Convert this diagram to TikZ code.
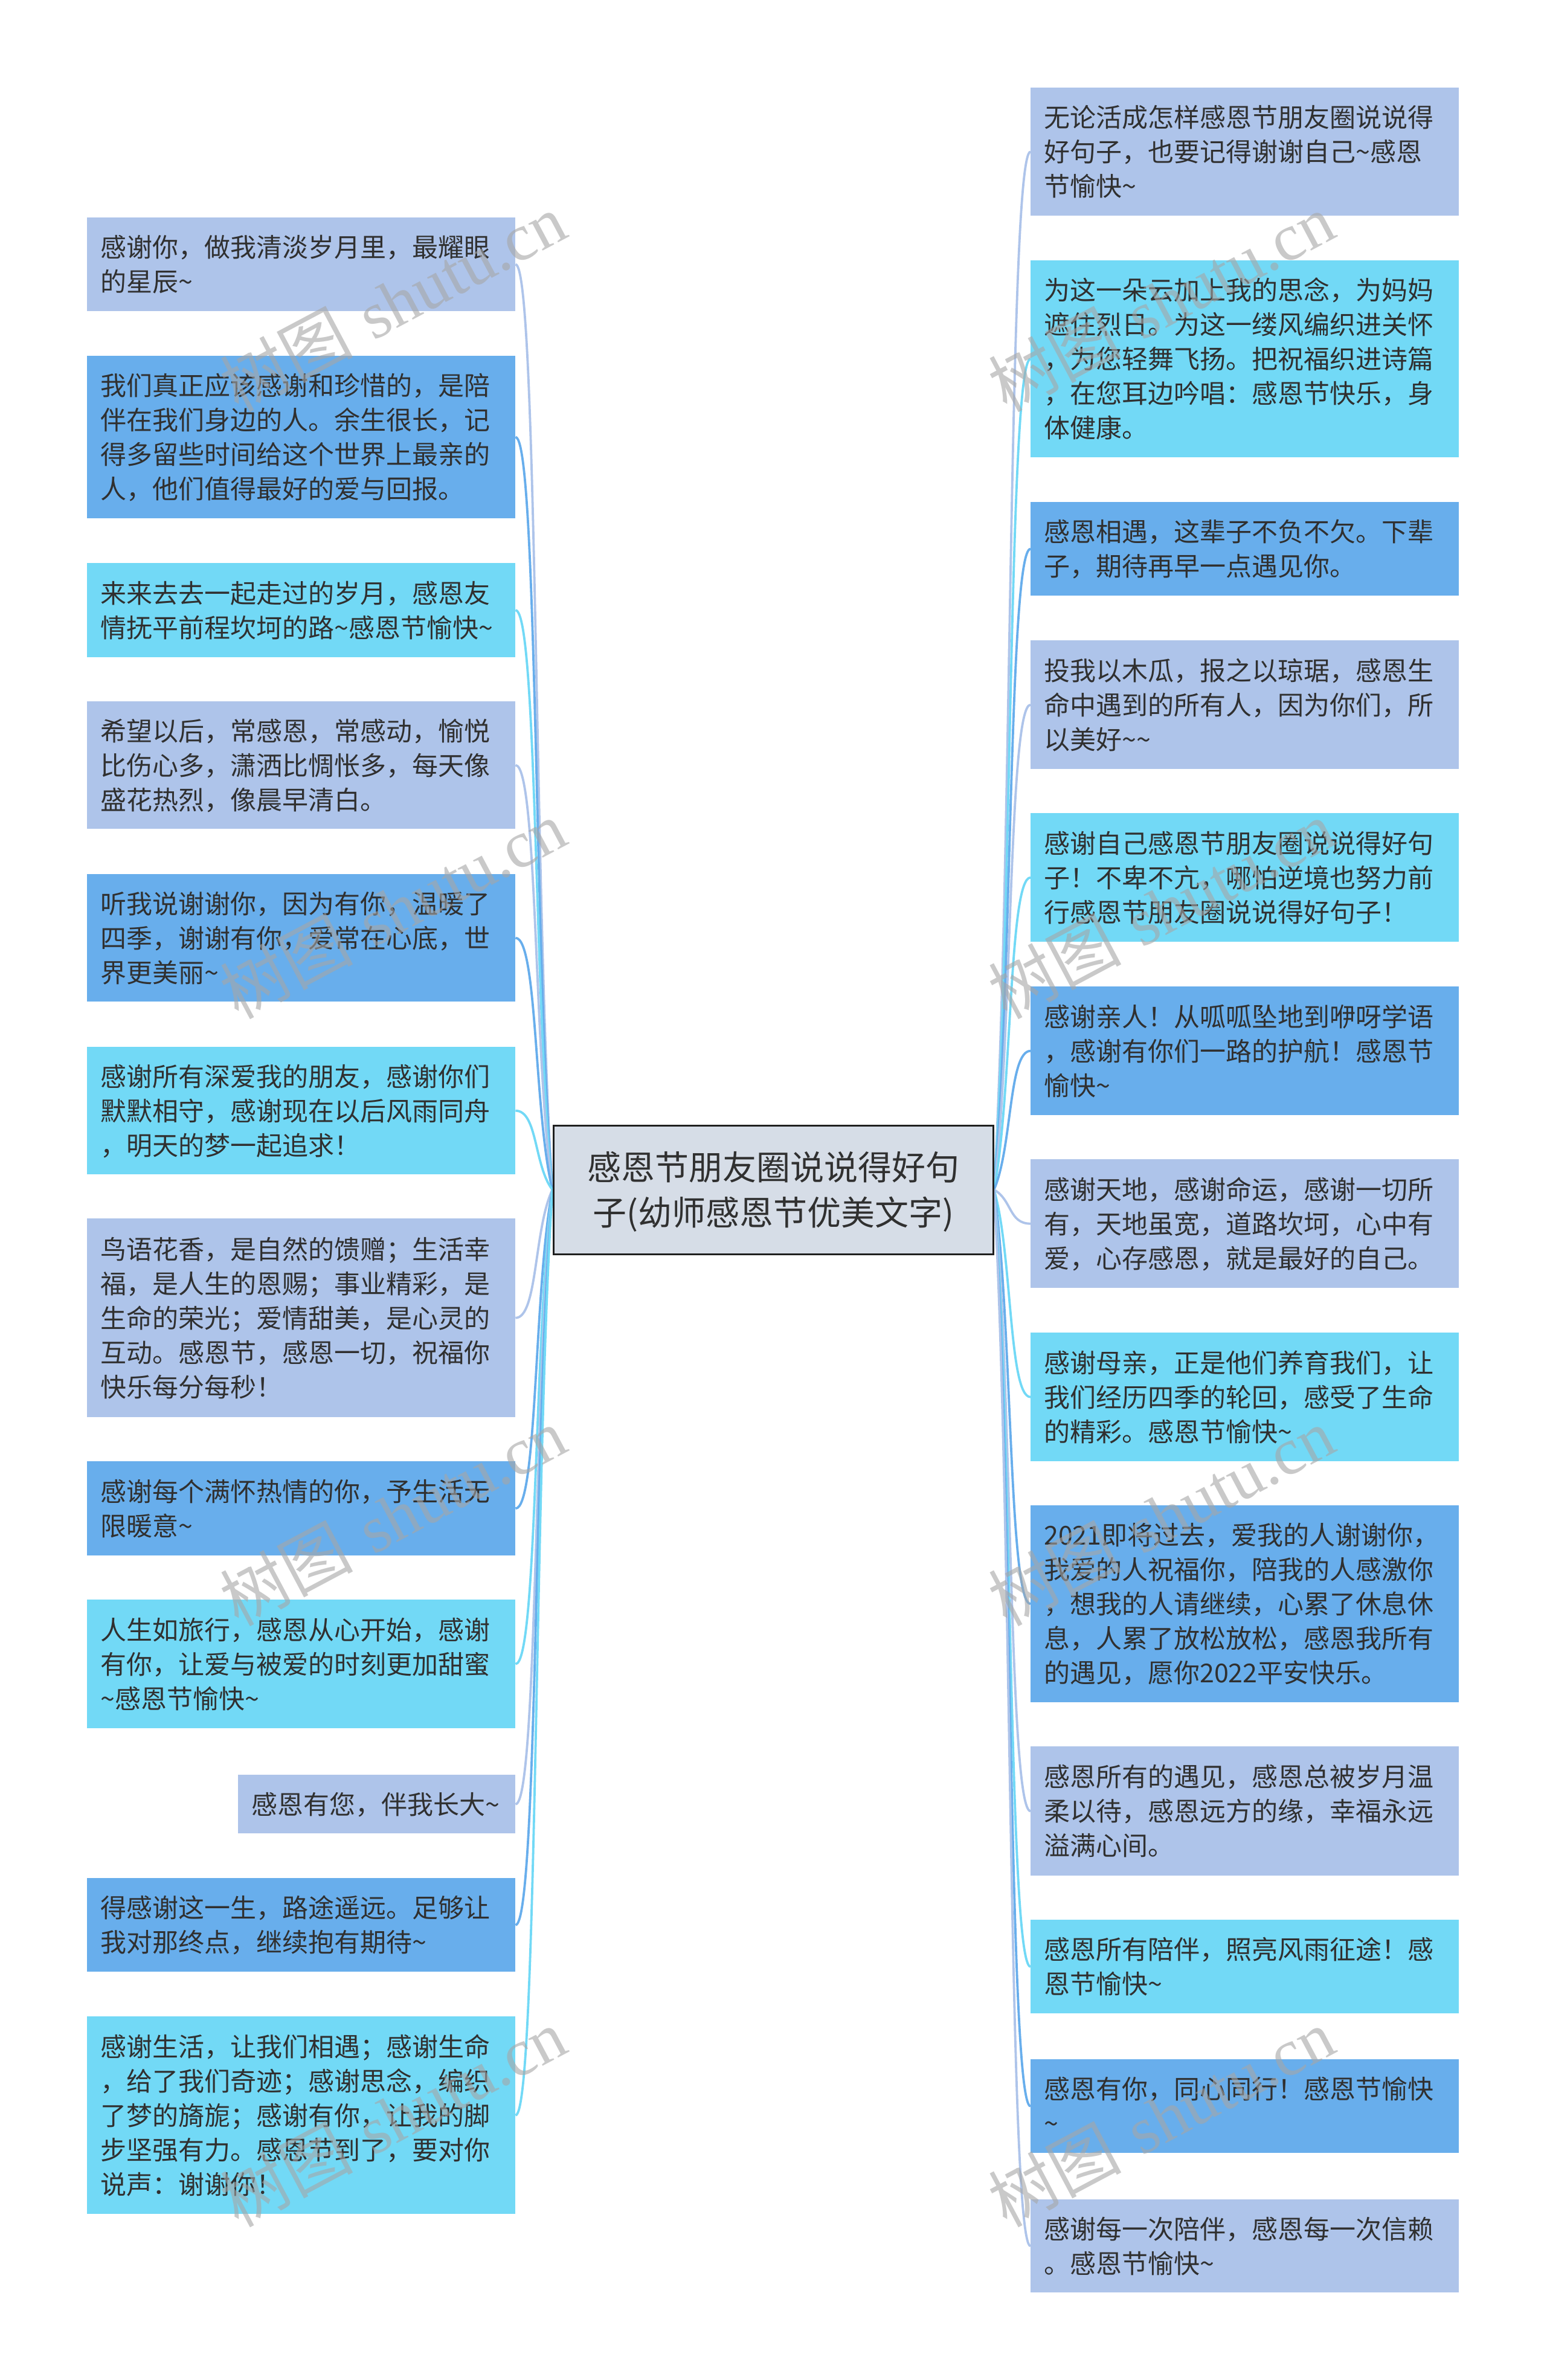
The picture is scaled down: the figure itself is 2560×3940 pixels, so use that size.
\documentclass[tikz,border=0pt]{standalone}
\usepackage{fontspec}
\newfontfamily\cjk{Noto Sans CJK SC}
\newfontfamily\wmlat{Liberation Serif}
\usetikzlibrary{calc}
\pgfdeclarelayer{bg}
\pgfsetlayers{bg,main}
\definecolor{cP}{HTML}{AEC4EA}
\definecolor{cB}{HTML}{68AEEC}
\definecolor{cC}{HTML}{72D9F6}
\definecolor{cCtr}{HTML}{D6DDE7}
\definecolor{txt}{HTML}{303030}
\newcommand\Ls{\rule[-12pt]{0pt}{57pt}}
\newcommand\Lc{\rule[-16pt]{0pt}{75pt}}
\newcommand\Tld{\textasciitilde}
\begin{document}
\begin{tikzpicture}[x=1pt,y=-1pt,
  leaf/.style={anchor=north west, text width=665pt, inner xsep=22pt, inner ysep=0pt,
    align=left, font=\cjk\fontsize{43pt}{57pt}\selectfont, text=txt},
  ctr/.style={minimum width=728pt, minimum height=213pt, inner sep=0pt, align=center,
    fill=cCtr, draw=black!88, line width=3pt, text=txt,
    font=\cjk\fontsize{56pt}{75pt}\selectfont},
  link/.style={line width=3.8pt},
  curve/.style={to path={let \p1=(\tikztostart), \p2=(\tikztotarget) in
    .. controls ({\x1+0.5*(\x2-\x1)},{\y1+0.3*(\y2-\y1)}) and ({\x1+0.4*(\x2-\x1)},\y2) .. (\tikztotarget)}},
  wm/.style={rotate=28, text=black!35, text opacity=0.6, inner sep=0pt,
    font=\fontsize{110pt}{110pt}\selectfont}
]
\useasboundingbox (0,0) rectangle (2560,3940);
\begin{pgfonlayer}{bg}
\fill[white] (0,0) rectangle (2560,3940);
\end{pgfonlayer}

% center
\node[ctr] (C) at (1280,1969.5) {\Lc 感恩节朋友圈说说得好句\\子(幼师感恩节优美文字)\Lc};

% left column
\node[leaf, fill=cP, minimum height=155pt] (L1) at (144,360) {\Ls 感谢你，做我清淡岁月里，最耀眼\\的星辰\Tld\Ls};
\node[leaf, fill=cB, minimum height=269pt] (L2) at (144,589) {\Ls 我们真正应该感谢和珍惜的，是陪\\伴在我们身边的人。余生很长，记\\得多留些时间给这个世界上最亲的\\人，他们值得最好的爱与回报。\Ls};
\node[leaf, fill=cC, minimum height=156pt] (L3) at (144,932) {\Ls 来来去去一起走过的岁月，感恩友\\情抚平前程坎坷的路\Tld 感恩节愉快\Tld\Ls};
\node[leaf, fill=cP, minimum height=211pt] (L4) at (144,1161) {\Ls 希望以后，常感恩，常感动，愉悦\\比伤心多，潇洒比惆怅多，每天像\\盛花热烈，像晨早清白。\Ls};
\node[leaf, fill=cB, minimum height=211pt] (L5) at (144,1447) {\Ls 听我说谢谢你，因为有你，温暖了\\四季，谢谢有你，爱常在心底，世\\界更美丽\Tld\Ls};
\node[leaf, fill=cC, minimum height=211pt] (L6) at (144,1733) {\Ls 感谢所有深爱我的朋友，感谢你们\\默默相守，感谢现在以后风雨同舟\\，明天的梦一起追求！\Ls};
\node[leaf, fill=cP, minimum height=329pt] (L7) at (144,2017) {\Ls 鸟语花香，是自然的馈赠；生活幸\\福，是人生的恩赐；事业精彩，是\\生命的荣光；爱情甜美，是心灵的\\互动。感恩节，感恩一切，祝福你\\快乐每分每秒！\Ls};
\node[leaf, fill=cB, minimum height=156pt] (L8) at (144,2419) {\Ls 感谢每个满怀热情的你，予生活无\\限暖意\Tld\Ls};
\node[leaf, fill=cC, minimum height=213pt] (L9) at (144,2648) {\Ls 人生如旅行，感恩从心开始，感谢\\有你，让爱与被爱的时刻更加甜蜜\\\Tld 感恩节愉快\Tld\Ls};
\node[leaf, fill=cP, minimum height=97pt, text width=415pt] (L10) at (394,2938) {\Ls 感恩有您，伴我长大\Tld\Ls};
\node[leaf, fill=cB, minimum height=155pt] (L11) at (144,3109) {\Ls 得感谢这一生，路途遥远。足够让\\我对那终点，继续抱有期待\Tld\Ls};
\node[leaf, fill=cC, minimum height=327pt] (L12) at (144,3338) {\Ls 感谢生活，让我们相遇；感谢生命\\，给了我们奇迹；感谢思念，编织\\了梦的旖旎；感谢有你，让我的脚\\步坚强有力。感恩节到了，要对你\\说声：谢谢你！\Ls};

% right column
\node[leaf, fill=cP, minimum height=212pt] (R1) at (1706,145) {\Ls 无论活成怎样感恩节朋友圈说说得\\好句子，也要记得谢谢自己\Tld 感恩\\节愉快\Tld\Ls};
\node[leaf, fill=cC, minimum height=326pt] (R2) at (1706,431) {\Ls 为这一朵云加上我的思念，为妈妈\\遮住烈日。为这一缕风编织进关怀\\，为您轻舞飞扬。把祝福织进诗篇\\，在您耳边吟唱：感恩节快乐，身\\体健康。\Ls};
\node[leaf, fill=cB, minimum height=155pt] (R3) at (1706,831) {\Ls 感恩相遇，这辈子不负不欠。下辈\\子，期待再早一点遇见你。\Ls};
\node[leaf, fill=cP, minimum height=213pt] (R4) at (1706,1060) {\Ls 投我以木瓜，报之以琼琚，感恩生\\命中遇到的所有人，因为你们，所\\以美好\Tld\Tld\Ls};
\node[leaf, fill=cC, minimum height=213pt] (R5) at (1706,1346) {\Ls 感谢自己感恩节朋友圈说说得好句\\子！不卑不亢，哪怕逆境也努力前\\行感恩节朋友圈说说得好句子！\Ls};
\node[leaf, fill=cB, minimum height=213pt] (R6) at (1706,1633) {\Ls 感谢亲人！从呱呱坠地到咿呀学语\\，感谢有你们一路的护航！感恩节\\愉快\Tld\Ls};
\node[leaf, fill=cP, minimum height=213pt] (R7) at (1706,1919) {\Ls 感谢天地，感谢命运，感谢一切所\\有，天地虽宽，道路坎坷，心中有\\爱，心存感恩，就是最好的自己。\Ls};
\node[leaf, fill=cC, minimum height=213pt] (R8) at (1706,2206) {\Ls 感谢母亲，正是他们养育我们，让\\我们经历四季的轮回，感受了生命\\的精彩。感恩节愉快\Tld\Ls};
\node[leaf, fill=cB, minimum height=326pt] (R9) at (1706,2492) {\Ls 2021即将过去，爱我的人谢谢你，\\我爱的人祝福你，陪我的人感激你\\，想我的人请继续，心累了休息休\\息，人累了放松放松，感恩我所有\\的遇见，愿你2022平安快乐。\Ls};
\node[leaf, fill=cP, minimum height=214pt] (R10) at (1706,2891) {\Ls 感恩所有的遇见，感恩总被岁月温\\柔以待，感恩远方的缘，幸福永远\\溢满心间。\Ls};
\node[leaf, fill=cC, minimum height=155pt] (R11) at (1706,3178) {\Ls 感恩所有陪伴，照亮风雨征途！感\\恩节愉快\Tld\Ls};
\node[leaf, fill=cB, minimum height=155pt] (R12) at (1706,3409) {\Ls 感恩有你，同心同行！感恩节愉快\\\Tld\Ls};
\node[leaf, fill=cP, minimum height=154pt] (R13) at (1706,3641) {\Ls 感谢每一次陪伴，感恩每一次信赖\\。感恩节愉快\Tld\Ls};

% connectors
\begin{pgfonlayer}{bg}
\foreach \nd/\cl in {L1/cP,L2/cB,L3/cC,L4/cP,L5/cB,L6/cC,L7/cP,L8/cB,L9/cC,L10/cP,L11/cB,L12/cC}
  \draw[link,draw=\cl] (C.west) to[curve] (\nd.east);
\foreach \nd/\cl in {R1/cP,R2/cC,R3/cB,R4/cP,R5/cC,R6/cB,R7/cP,R8/cC,R9/cB,R10/cP,R11/cC,R12/cB,R13/cP}
  \draw[link,draw=\cl] (C.east) to[curve] (\nd.west);
\end{pgfonlayer}

% watermarks
\foreach \i/\yy in {1/500,2/1505,3/2510,4/3505}{
  \node[wm] (wmL\i) at (650,\yy) {{\cjk 树图} {\wmlat shutu.cn}};
  \node[wm] (wmR\i) at (1922,\yy) {{\cjk 树图} {\wmlat shutu.cn}};
}
\end{tikzpicture}
\end{document}
